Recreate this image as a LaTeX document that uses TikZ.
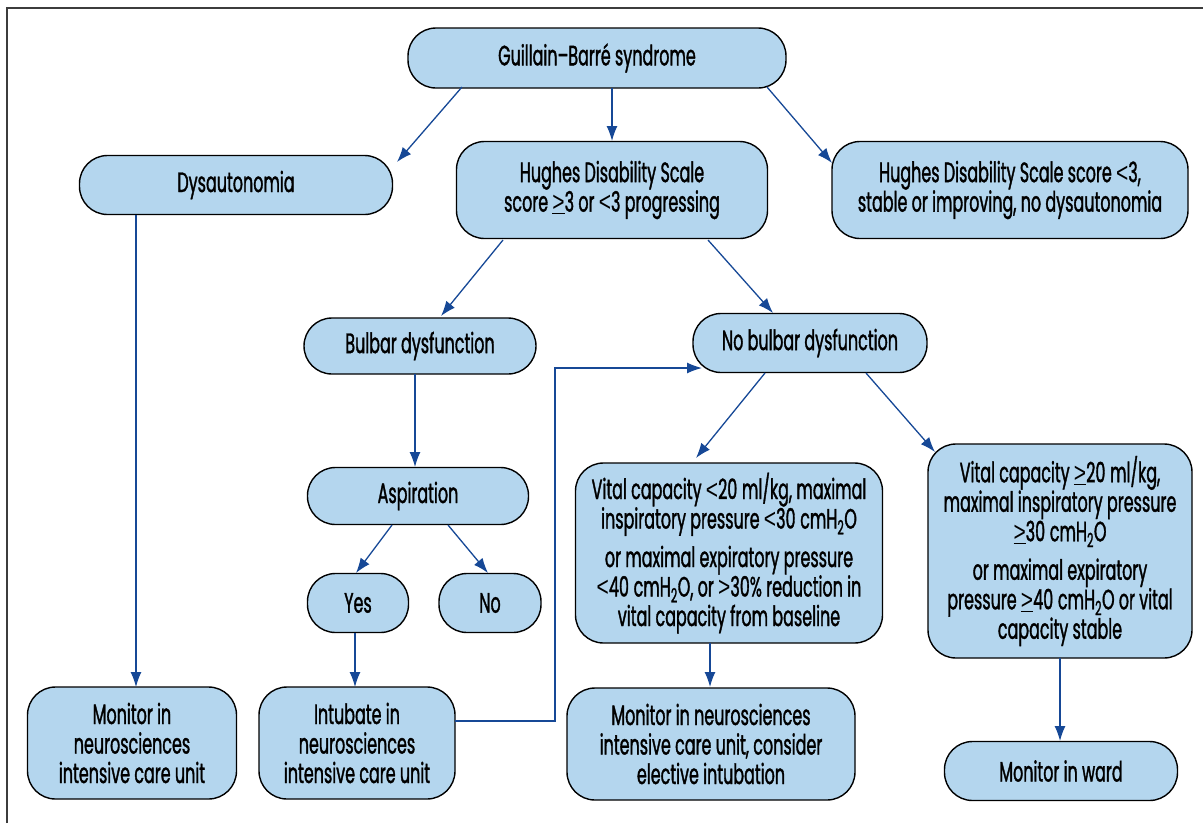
\documentclass[tikz,border=0pt]{standalone}
\usepackage{fontspec}
\setmainfont{Poppins}[FakeStretch=0.57, FakeBold=1.2]
\newfontfamily\symfont{Liberation Sans}[FakeStretch=0.75]
\usetikzlibrary{arrows.meta}
\definecolor{boxblue}{RGB}{180,214,238}
\definecolor{arrowblue}{RGB}{22,72,150}
\definecolor{framegray}{RGB}{60,60,60}
\tikzset{
  box/.style={draw=black, line width=1.4pt, fill=boxblue, rounded corners=28pt,
    align=center, inner sep=0pt, font=\fontsize{28}{29.5}\selectfont},
  arr/.style={draw=arrowblue, line width=1.3pt, -{Latex[length=15pt,width=11pt]}},
}
\newcommand{\ltsym}{{\symfont<}}
\newcommand{\gtsym}{{\symfont>}}
\newcommand{\ulgeq}{\underline{\gtsym}}
\newcommand{\water}{cmH\textsubscript{2}O}
\begin{document}
\begin{tikzpicture}[x=1pt,y=-1pt]
\useasboundingbox (0,0) rectangle (1203,823);
\draw[framegray, line width=2pt] (7,823) -- (7,8) -- (1203,8);

\node[box, minimum width=378pt, minimum height=60pt] (gbs) at (597,58) {Guillain–Barré syndrome};
\node[box, minimum width=313pt, minimum height=59pt] (dys) at (236,185) {Dysautonomia};
\node[box, minimum width=311pt, minimum height=97pt] (hug) at (612,190) {Hughes Disability Scale\\score \ulgeq3 or \ltsym3 progressing};
\node[box, minimum width=356pt, minimum height=97pt] (hl) at (1010,190) {Hughes Disability Scale score \ltsym3,\\stable or improving, no dysautonomia};
\node[box, minimum width=232pt, minimum height=56pt] (bul) at (420,346) {Bulbar dysfunction};
\node[box, minimum width=234pt, minimum height=59pt] (nb) at (810,343) {No bulbar dysfunction};
\node[box, minimum width=221pt, minimum height=57pt] (asp) at (418,496) {Aspiration};
\node[box, minimum width=101pt, minimum height=59pt] (yes) at (358,603) {Yes};
\node[box, minimum width=102pt, minimum height=59pt] (no) at (490,603) {No};
\node[box, minimum width=307pt, minimum height=180pt] (vcl) at (729,553) {Vital capacity \ltsym20\,ml/kg, maximal\\inspiratory pressure \ltsym30\,\water\\[9pt]or maximal expiratory pressure\\\ltsym40\,\water, or \gtsym30\% reduction in\\vital capacity from baseline};
\node[box, minimum width=264pt, minimum height=214pt] (vcr) at (1060,551) {Vital capacity \ulgeq20\,ml/kg,\\maximal inspiratory pressure\\\ulgeq30\,\water\\[9pt]or maximal expiratory\\pressure \ulgeq40\,\water{} or vital\\capacity stable};
\node[box, minimum width=209pt, minimum height=112pt] (mon1) at (132,743) {Monitor in\\neurosciences\\intensive care unit};
\node[box, minimum width=196pt, minimum height=112pt] (int) at (357,743) {Intubate in\\neurosciences\\intensive care unit};
\node[box, minimum width=288pt, minimum height=112pt] (mon2) at (711,744) {Monitor in neurosciences\\intensive care unit, consider\\elective intubation};
\node[box, minimum width=233pt, minimum height=59pt] (ward) at (1061,771) {Monitor in ward};

\draw[arr] ([shift={(-135,29)}]gbs.center) -- ([shift={(161,-23)}]dys.center);
\draw[arr] ([shift={(15,30)}]gbs.center) -- ([shift={(0,-49)}]hug.center);
\draw[arr] ([shift={(170,29)}]gbs.center) -- ([shift={(-178,-27)}]hl.center);
\draw[arr] ([shift={(-109,50)}]hug.center) -- ([shift={(21,-30)}]bul.center);
\draw[arr] ([shift={(96,50)}]hug.center) -- ([shift={(-37,-30)}]nb.center);
\draw[arr] ([shift={(-5,28)}]bul.center) -- ([shift={(-3,-29)}]asp.center);
\draw[arr] ([shift={(-26,29)}]asp.center) -- ([shift={(-2,-30)}]yes.center);
\draw[arr] ([shift={(30,29)}]asp.center) -- ([shift={(-2,-30)}]no.center);
\draw[arr] ([shift={(-3,30)}]yes.center) -- ([shift={(-2,-56)}]int.center);
\draw[arr] ([shift={(98,-22)}]int.center) -- ++(100,0) |- ([shift={(-108,25)}]nb.center);
\draw[arr] ([shift={(-45,30)}]nb.center) -- ([shift={(-33,-95)}]vcl.center);
\draw[arr] ([shift={(56,30)}]nb.center) -- ([shift={(-125,-99)}]vcr.center);
\draw[arr] ([shift={(-19,90)}]vcl.center) -- ([shift={(-1,-57)}]mon2.center);
\draw[arr] ([shift={(0,107)}]vcr.center) -- ([shift={(-1,-30)}]ward.center);
\draw[arr] ([shift={(-100,30)}]dys.center) -- ([shift={(4,-56)}]mon1.center);
\end{tikzpicture}
\end{document}
